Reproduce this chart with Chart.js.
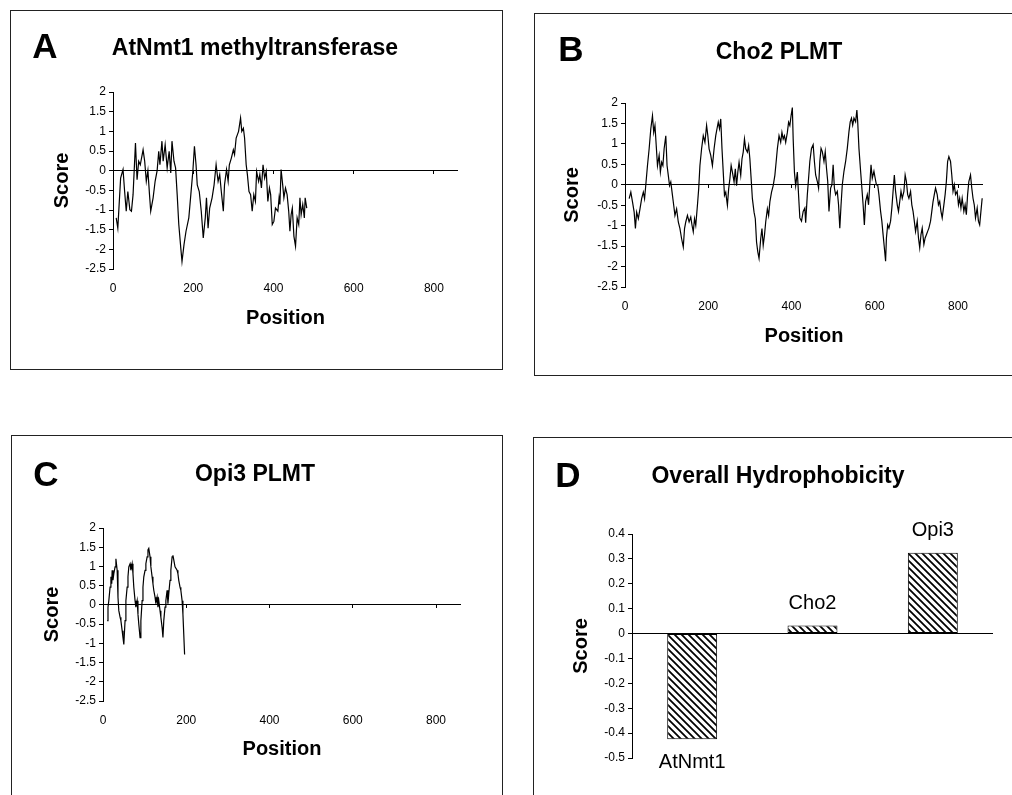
<!DOCTYPE html>
<html>
<head>
<meta charset="utf-8">
<script src="https://cdn.jsdelivr.net/npm/chart.js@4.4.1/dist/chart.umd.min.js"></script>
<style>
  html, body { margin: 0; padding: 0; background: #fff; }
  body { width: 1012px; height: 795px; overflow: hidden; position: relative; font-family: "Liberation Sans", Arial, sans-serif; }
  .frame { position: absolute; border: 1px solid #222; box-sizing: border-box; }
  canvas { position: absolute; }
  .letter { position: absolute; font-weight: bold; font-size: 35px; line-height: 1; transform: translate(-50%, -50%); }
  .title { position: absolute; font-weight: bold; font-size: 23px; line-height: 1; white-space: nowrap; transform: translate(-50%, -50%); }
</style>
</head>
<body>
<div class="frame" style="left:10px;top:10px;width:493px;height:360px"></div>
<div class="frame" style="left:534px;top:13px;width:490px;height:363px"></div>
<div class="frame" style="left:11px;top:435px;width:492px;height:400px"></div>
<div class="frame" style="left:533px;top:437px;width:490px;height:400px"></div>

<canvas id="chartA" width="492" height="359" style="left:10px;top:10px"></canvas>
<canvas id="chartB" width="478" height="362" style="left:534px;top:13px"></canvas>
<canvas id="chartC" width="491" height="360" style="left:11px;top:435px"></canvas>
<canvas id="chartD" width="479" height="358" style="left:533px;top:437px"></canvas>

<div class="letter" style="left:45px;top:45px">A</div>
<div class="title" style="left:255px;top:47px">AtNmt1 methyltransferase</div>
<div class="letter" style="left:571px;top:48px">B</div>
<div class="title" style="left:779px;top:51px">Cho2 PLMT</div>
<div class="letter" style="left:46px;top:473px">C</div>
<div class="title" style="left:255px;top:473px">Opi3 PLMT</div>
<div class="letter" style="left:568px;top:474px">D</div>
<div class="title" style="left:778px;top:475px">Overall Hydrophobicity</div>

<script>
// Hydropathy profiles (position along the sequence, score)
const atnmt1Pos = [8, 12, 19, 25, 29, 33, 37, 42, 46, 50, 56, 60, 64, 68, 75, 79, 83, 87, 91, 94,
  100, 105, 110, 114, 117, 122, 125, 130, 135, 140, 144, 147, 152, 156, 160, 164, 169, 172, 177, 182,
  189, 194, 199, 203, 207, 210, 215, 220, 225, 230, 233, 237, 241, 247, 252, 257, 262, 266, 270, 275,
  278, 283, 287, 290, 295, 300, 303, 307, 313, 318, 321, 325, 328, 332, 335, 339, 343, 347, 351, 355,
  358, 363, 366, 370, 374, 378, 382, 386, 390, 393, 397, 401, 405, 411, 414, 416, 419, 423, 426, 430,
  434, 438, 441, 444, 447, 451, 455, 459, 463, 466, 469, 473, 477, 479, 483];
const atnmt1Score = [-1.20, -1.46, -0.19, 0.03, -0.53, -1.03, -0.53, -0.99, -1.03, -0.61, 0.70, -0.23, 0.24, 0.15, 0.53, 0.24, -0.27, 0.00, -0.61, -1.03,
  -0.69, -0.27, 0.00, 0.49, 0.15, 0.75, 0.24, 0.66, 0.07, 0.49, -0.06, 0.75, 0.24, 0.07, -0.61, -1.37, -1.97, -2.31, -1.88, -1.54,
  -1.20, -0.61, -0.02, 0.62, 0.15, -0.36, -0.53, -1.03, -1.71, -1.20, -0.69, -1.46, -0.95, -0.69, -0.36, 0.15, -0.27, -0.10, -0.53, -1.03,
  -0.36, 0.03, -0.27, 0.15, 0.32, 0.53, 0.41, 0.83, 1.00, 1.34, 1.00, 1.08, 0.83, 0.15, -0.10, -0.53, -0.61, -1.03, -0.61, -0.78,
  -0.02, -0.27, -0.10, -0.44, 0.15, -0.19, -0.02, -0.78, -0.44, -0.61, -1.37, -1.29, -0.95, -1.03, -0.69, -0.86, 0.03, -0.36, -0.69, -0.44,
  -0.61, -1.03, -1.54, -1.12, -0.95, -1.67, -1.92, -1.20, -1.37, -0.69, -1.12, -0.86, -1.20, -0.69, -0.95];

const cho2Pos = [10, 14, 18, 22, 25, 28, 32, 36, 40, 44, 47, 50, 54, 58, 62, 66, 69, 72, 75, 78,
  82, 85, 88, 91, 94, 98, 101, 104, 107, 110, 114, 117, 120, 124, 128, 132, 136, 140, 143, 146,
  150, 154, 158, 161, 164, 167, 170, 174, 177, 180, 184, 188, 192, 196, 199, 202, 206, 210, 214, 218,
  221, 224, 227, 230, 233, 236, 239, 242, 246, 249, 252, 255, 258, 262, 265, 268, 271, 274, 278, 281,
  284, 287, 290, 294, 297, 300, 303, 306, 310, 313, 316, 319, 322, 326, 329, 332, 335, 338, 342, 345,
  348, 352, 356, 360, 363, 366, 370, 374, 377, 380, 383, 386, 390, 393, 396, 399, 402, 404, 407, 410,
  414, 417, 420, 424, 428, 432, 434, 438, 441, 444, 448, 452, 455, 458, 462, 465, 468, 471, 474, 478,
  481, 484, 487, 490, 494, 497, 500, 503, 506, 510, 513, 516, 519, 522, 526, 530, 534, 538, 541, 544,
  547, 550, 554, 557, 559, 562, 566, 569, 572, 575, 578, 582, 585, 588, 591, 594, 598, 601, 604, 607,
  610, 614, 617, 620, 623, 626, 628, 631, 634, 638, 641, 644, 647, 650, 654, 657, 660, 663, 666, 670,
  673, 676, 679, 682, 686, 689, 692, 695, 698, 702, 705, 708, 711, 714, 718, 721, 724, 727, 730, 734,
  737, 740, 743, 746, 750, 753, 756, 759, 762, 766, 769, 772, 775, 778, 782, 785, 788, 791, 794, 798,
  801, 804, 807, 810, 814, 817, 820, 823, 826, 830, 833, 836, 839, 842, 846, 849, 852, 855, 858];
const cho2Score = [-0.34, -0.18, -0.42, -0.67, -1.07, -0.67, -0.83, -0.59, -0.34, -0.18, -0.34, 0.00, 0.47, 0.88, 1.37, 1.69, 1.28, 1.45, 0.96, 0.47,
  0.72, 0.31, 0.55, 0.47, 0.88, 1.20, 0.47, 0.23, -0.02, 0.07, -0.26, -0.50, -0.75, -0.59, -0.91, -1.07, -1.32, -1.52, -1.07, -0.91,
  -0.75, -0.91, -0.79, -0.99, -1.15, -0.83, -0.99, -0.50, -0.10, 0.47, 0.88, 1.20, 1.04, 1.45, 1.20, 0.88, 0.72, 0.47, 0.88, 1.20,
  1.37, 1.53, 1.37, 1.61, 0.88, 0.31, -0.26, -0.18, -0.50, -0.10, 0.15, 0.47, 0.31, 0.07, 0.39, -0.02, 0.31, 0.55, 0.23, 0.63,
  0.80, 1.12, 0.88, 0.80, 0.96, 0.63, 0.15, -0.34, -0.67, -0.83, -1.40, -1.64, -1.80, -1.32, -1.07, -1.48, -1.24, -0.91, -0.59, -0.75,
  -0.42, -0.18, -0.02, 0.23, 0.55, 0.88, 1.20, 1.04, 1.28, 1.12, 1.20, 1.04, 1.28, 1.53, 1.45, 1.69, 1.89, 1.12, 0.31, -0.02,
  0.31, -0.26, -0.81, -0.89, -0.65, -0.57, -0.93, -0.24, 0.16, 0.57, 0.89, 0.98, 0.57, 0.24, 0.08, -0.08, 0.57, 0.89, 0.81, 0.57,
  0.81, 0.41, 0.08, -0.65, -0.08, 0.00, 0.49, -0.08, -0.24, -0.16, -0.49, -1.06, -0.49, 0.00, 0.33, 0.57, 0.89, 1.30, 1.54, 1.63,
  1.46, 1.63, 1.54, 1.83, 1.54, 0.89, 0.33, -0.08, -0.49, -0.98, -0.41, -0.24, -0.49, 0.00, 0.49, 0.16, 0.33, 0.16, 0.00, 0.00,
  -0.24, -0.65, -0.89, -1.22, -1.54, -1.87, -1.30, -0.98, -1.06, -0.89, -0.57, -0.16, 0.24, -0.16, -0.49, -0.65, -0.41, -0.16, -0.33, -0.16,
  0.24, 0.08, -0.24, -0.33, -0.16, -0.49, -0.65, -0.89, -1.14, -0.89, -1.30, -1.54, -1.22, -1.06, -1.46, -1.30, -1.22, -1.14, -1.06, -0.89,
  -0.65, -0.41, -0.24, -0.08, -0.24, -0.49, -0.41, -0.65, -0.81, -0.49, -0.24, 0.08, 0.57, 0.69, 0.57, 0.24, -0.16, 0.00, -0.24, -0.16,
  -0.49, -0.33, -0.57, -0.33, -0.65, -0.49, -0.73, -0.24, 0.08, 0.24, -0.08, -0.33, -0.49, -0.81, -0.57, -0.89, -0.98, -0.65, -0.33];

const opi3Pos = [10, 12, 14, 17, 19, 21, 22, 24, 26, 29, 31, 34, 36, 38, 41, 43, 46, 48, 50, 53,
  55, 58, 60, 62, 65, 67, 70, 72, 74, 77, 79, 82, 84, 86, 89, 91, 94, 96, 98, 101,
  103, 106, 108, 110, 113, 115, 118, 120, 122, 125, 127, 130, 132, 134, 137, 139, 142, 144, 146, 149,
  151, 154, 156, 158, 161, 163, 166, 168, 170, 173, 175, 178, 180, 182, 185, 187, 190, 192, 194, 196];
const opi3Score = [-0.41, -0.06, 0.11, 0.46, 0.73, 0.55, 0.90, 0.64, 0.81, 0.99, 1.20, 0.90, 0.20, -0.15, -0.32, -0.41, -0.67, -0.85, -1.03, -0.41,
  0.11, 0.46, 0.73, 0.99, 1.07, 0.90, 1.07, 0.81, 0.46, 0.11, -0.06, 0.11, -0.24, -0.50, -0.85, -0.41, 0.11, 0.46, 0.73, 0.90,
  1.07, 1.25, 1.43, 1.47, 1.25, 0.99, 0.73, 0.55, 0.38, 0.20, 0.03, 0.20, -0.06, 0.11, -0.15, -0.32, -0.59, -0.85, -0.41, -0.06,
  0.11, 0.38, 0.03, 0.29, 0.64, 0.90, 1.25, 1.29, 1.17, 0.99, 0.99, 0.90, 0.81, 0.64, 0.46, 0.38, 0.11, -0.24, -0.76, -1.29];

// Overall hydrophobicity
const overallNames = ['AtNmt1', 'Cho2', 'Opi3'];
const overallScores = [-0.425, 0.032, 0.325];

const positionMax = 860;
const AXIS_W = 70;
const AXIS_H = 70;

Chart.defaults.font.family = '"Liberation Sans", Arial, sans-serif';
Chart.defaults.color = '#000';

const tickFont = { size: 12 };
const axisTitleFont = { size: 20, weight: 'bold' };

function zeroLine(c) {
  return c.tick.value === 0 ? '#000' : 'rgba(0,0,0,0)';
}

// plain number labels: 2, 1.5, 1, -0.5 ...
function plainLabel(v) {
  return String(Math.round(v * 10) / 10);
}

// area = plot area inside the canvas; scoreX / posY = centre of the axis titles
function profileChart(id, pos, score, area, scoreX, posY) {
  const cv = document.getElementById(id);
  return new Chart(cv, {
    type: 'line',
    data: {
      datasets: [{
        data: pos.map((p, i) => ({ x: p, y: score[i] })),
        borderColor: '#000',
        borderWidth: 1.2,
        pointRadius: 0,
        tension: 0,
        xAxisID: 'x',
        yAxisID: 'y',
      }],
    },
    options: {
      responsive: false,
      animation: false,
      devicePixelRatio: 1,
      layout: {
        padding: { left: area.l - AXIS_W, right: cv.width - area.r, top: area.t, bottom: cv.height - area.b - AXIS_H },
      },
      plugins: { legend: { display: false }, tooltip: { enabled: false } },
      scales: {
        x: {
          type: 'linear', min: 0, max: positionMax,
          afterFit: s => { s.height = AXIS_H; },
          ticks: { stepSize: 200, includeBounds: false, maxRotation: 0, padding: 12, font: tickFont },
          grid: { display: false, drawTicks: false },
          border: { display: false },
          title: { display: true, text: 'Position', font: axisTitleFont, padding: { top: 0, bottom: area.b + AXIS_H - posY - 12 } },
        },
        x2: {
          type: 'linear', axis: 'x', position: { y: 0 }, min: 0, max: positionMax,
          ticks: { display: false, stepSize: 200, includeBounds: false },
          grid: { drawOnChartArea: false, tickLength: 3, color: '#000' },
          border: { display: false },
        },
        y: {
          min: -2.5, max: 2,
          afterFit: s => { s.width = AXIS_W; },
          ticks: { stepSize: 0.5, padding: 3, font: tickFont, callback: plainLabel },
          grid: { color: zeroLine, tickColor: '#000', tickLength: 4 },
          border: { display: true, color: '#000' },
          title: { display: true, text: 'Score', font: axisTitleFont, padding: { top: scoreX - (area.l - AXIS_W) - 12, bottom: 0 } },
        },
      },
    },
  });
}

profileChart('chartA', atnmt1Pos, atnmt1Score, { l: 103, r: 448, t: 82, b: 259 }, 52, 308);
profileChart('chartB', cho2Pos, cho2Score, { l: 91, r: 449, t: 90, b: 274 }, 38, 323);
profileChart('chartC', opi3Pos, opi3Score, { l: 92, r: 450, t: 93, b: 266 }, 41, 314);

function makeHatch() {
  const s = 7;
  const c = document.createElement('canvas');
  c.width = s; c.height = s;
  const g = c.getContext('2d');
  g.fillStyle = '#fff';
  g.fillRect(0, 0, s, s);
  g.strokeStyle = '#000';
  g.lineWidth = 1.8;
  g.beginPath();
  g.moveTo(0, 0); g.lineTo(s, s);
  g.moveTo(-1, s - 1); g.lineTo(1, s + 1);
  g.moveTo(s - 1, -1); g.lineTo(s + 1, 1);
  g.stroke();
  return g.createPattern(c, 'repeat');
}

const barNames = {
  id: 'barNames',
  afterDatasetsDraw(chart) {
    const ctx = chart.ctx;
    const meta = chart.getDatasetMeta(0);
    ctx.save();
    ctx.font = '20px "Liberation Sans", Arial, sans-serif';
    ctx.fillStyle = '#000';
    ctx.textAlign = 'center';
    ctx.textBaseline = 'middle';
    meta.data.forEach((bar, i) => {
      const y = overallScores[i] < 0 ? bar.y + 23 : bar.y - 22;
      ctx.fillText(overallNames[i], bar.x, y);
    });
    ctx.restore();
  },
};

(function () {
  const cv = document.getElementById('chartD');
  const area = { l: 99, r: 460, t: 97, b: 321 };
  const scoreX = 48;
  new Chart(cv, {
    type: 'bar',
    data: {
      labels: overallNames,
      datasets: [{
        data: overallScores,
        backgroundColor: makeHatch(),
        borderColor: '#000',
        borderWidth: 1,
        borderSkipped: false,
        barPercentage: 0.415,
        categoryPercentage: 1,
      }],
    },
    options: {
      responsive: false,
      animation: false,
      devicePixelRatio: 1,
      layout: {
        padding: { left: area.l - AXIS_W, right: cv.width - area.r, top: area.t, bottom: cv.height - area.b },
      },
      plugins: { legend: { display: false }, tooltip: { enabled: false } },
      scales: {
        x: { display: false },
        y: {
          min: -0.5, max: 0.4,
          afterFit: s => { s.width = AXIS_W; },
          ticks: { stepSize: 0.1, padding: 3, font: tickFont, callback: plainLabel },
          grid: { color: zeroLine, tickColor: '#000', tickLength: 4 },
          border: { display: true, color: '#000' },
          title: { display: true, text: 'Score', font: axisTitleFont, padding: { top: scoreX - (area.l - AXIS_W) - 12, bottom: 0 } },
        },
      },
    },
    plugins: [barNames],
  });
})();
</script>
</body>
</html>
